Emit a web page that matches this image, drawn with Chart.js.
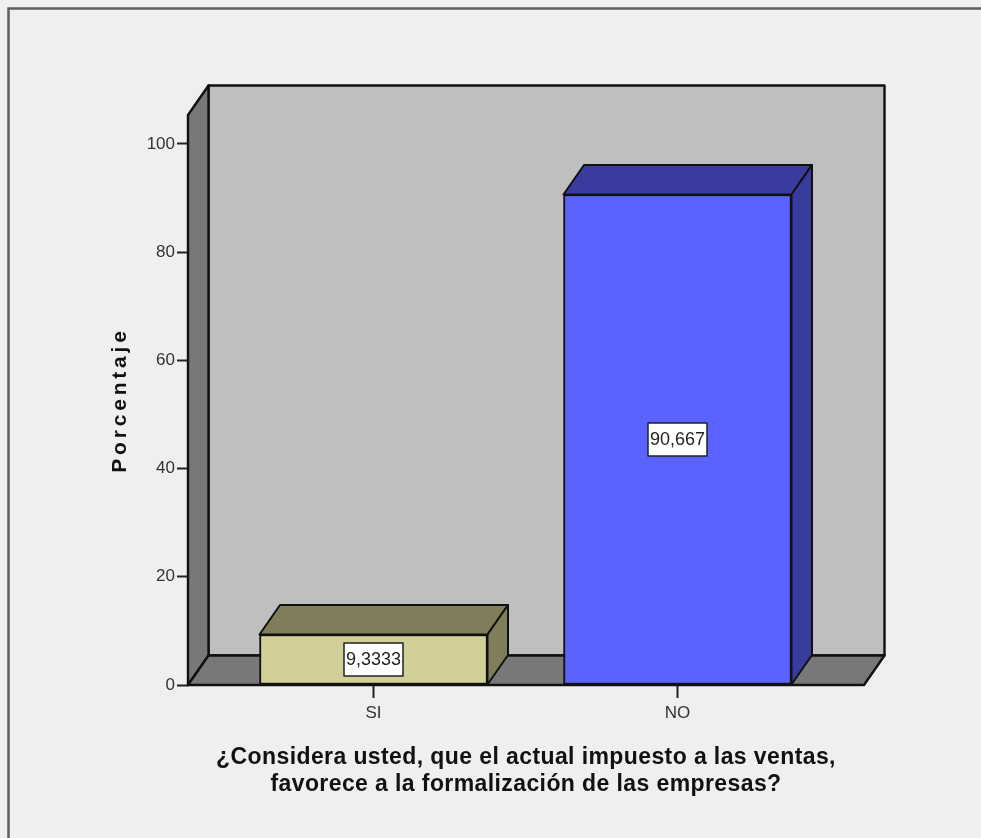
<!DOCTYPE html>
<html lang="es">
<head>
<meta charset="utf-8">
<title>Porcentaje</title>
<script src="https://cdn.jsdelivr.net/npm/chart.js@4"></script>
<style>
  html, body { margin: 0; padding: 0; background: #efefef; overflow: hidden; }
  canvas { display: block; }
</style>
</head>
<body>
<canvas id="chart" width="981" height="838"></canvas>
<script>
const categories = ['SI', 'NO'];
const percentages = [9.3333, 90.667];
const faceColors = ['#d3cf98', '#5a62ff'];
const shadeColors = ['#807e5a', '#393c9e'];
const yTicks = [0, 20, 40, 60, 80, 100];
const yTitle = 'Porcentaje';
const xTitle = ['¿Considera usted, que el actual impuesto a las ventas,',
                'favorece a la formalización de las empresas?'];

// Oblique offset of the box depth, in pixels
const DEPTH_X = 20.5;
const DEPTH_Y = -29.5;
const TEXT_FAMILY = '"Liberation Sans", Arial, sans-serif';

function polygon(ctx, pts, fill) {
  ctx.beginPath();
  pts.forEach((p, i) => i ? ctx.lineTo(p[0], p[1]) : ctx.moveTo(p[0], p[1]));
  ctx.closePath();
  ctx.fillStyle = fill;
  ctx.fill();
  ctx.stroke();
}

// Adds tracking to an axis title only; other axis text keeps normal spacing
function trackTitle(scale, spacing) {
  if (scale.$tracked) return;
  scale.$tracked = true;
  const drawTitle = scale.drawTitle;
  scale.drawTitle = function () {
    const ctx = scale.ctx;
    ctx.letterSpacing = spacing;
    drawTitle.call(scale);
    ctx.letterSpacing = '0px';
  };
}

const pageFrame = {
  id: 'pageFrame',
  beforeDraw(chart) {
    const ctx = chart.ctx;
    ctx.save();
    ctx.strokeStyle = '#5f5f5f';
    ctx.lineWidth = 2.5;
    ctx.beginPath();
    ctx.moveTo(8.5, chart.height);
    ctx.lineTo(8.5, 8.5);
    ctx.lineTo(chart.width, 8.5);
    ctx.stroke();
    ctx.restore();
  }
};

// Back wall, side wall and floor of the 3D box
const box3d = {
  id: 'box3d',
  beforeDatasetsDraw(chart) {
    const { ctx, chartArea: a } = chart;
    ctx.save();
    ctx.strokeStyle = '#111';
    ctx.lineWidth = 2.4;
    ctx.lineJoin = 'round';
    polygon(ctx, [[a.left + DEPTH_X, a.top + DEPTH_Y], [a.right + DEPTH_X, a.top + DEPTH_Y],
                  [a.right + DEPTH_X, a.bottom + DEPTH_Y], [a.left + DEPTH_X, a.bottom + DEPTH_Y]], '#bfbfbf');
    polygon(ctx, [[a.left, a.top], [a.left + DEPTH_X, a.top + DEPTH_Y],
                  [a.left + DEPTH_X, a.bottom + DEPTH_Y], [a.left, a.bottom]], '#787878');
    polygon(ctx, [[a.left, a.bottom], [a.left + DEPTH_X, a.bottom + DEPTH_Y],
                  [a.right + DEPTH_X, a.bottom + DEPTH_Y], [a.right, a.bottom]], '#787878');
    ctx.restore();
  },
  // Top and right faces of every bar, then its value label
  afterDatasetsDraw(chart) {
    const ctx = chart.ctx;
    const bars = chart.getDatasetMeta(0).data;
    ctx.save();
    ctx.lineJoin = 'round';
    bars.forEach((bar, i) => {
      const l = bar.x - bar.width / 2;
      const r = bar.x + bar.width / 2;
      ctx.strokeStyle = '#111';
      ctx.lineWidth = 2;
      polygon(ctx, [[l, bar.y], [l + DEPTH_X, bar.y + DEPTH_Y], [r + DEPTH_X, bar.y + DEPTH_Y], [r, bar.y]], shadeColors[i]);
      polygon(ctx, [[r, bar.y], [r + DEPTH_X, bar.y + DEPTH_Y], [r + DEPTH_X, bar.base + DEPTH_Y], [r, bar.base]], shadeColors[i]);

      const text = percentages[i].toPrecision(5).replace('.', ',');
      const cy = (bar.y + bar.base) / 2;
      const w = 59, h = 33;
      ctx.fillStyle = '#fff';
      ctx.strokeStyle = '#222';
      ctx.lineWidth = 1.5;
      ctx.fillRect(bar.x - w / 2, cy - h / 2, w, h);
      ctx.strokeRect(bar.x - w / 2, cy - h / 2, w, h);
      ctx.font = '18px ' + TEXT_FAMILY;
      ctx.fillStyle = '#222';
      ctx.textAlign = 'center';
      ctx.textBaseline = 'middle';
      ctx.fillText(text, bar.x, cy + 1);
    });
    ctx.restore();
  }
};

new Chart(document.getElementById('chart'), {
  type: 'bar',
  data: {
    datasets: [{
      label: yTitle,
      data: percentages.map((y, i) => ({ x: i, y })),
      backgroundColor: faceColors,
      borderColor: '#111',
      borderWidth: 2,
      borderSkipped: false,
      barThickness: 228,
      clip: false
    }]
  },
  options: {
    responsive: false,
    animation: false,
    devicePixelRatio: 1,
    layout: { padding: { left: 0, top: 115, right: 117, bottom: 0 } },
    plugins: { legend: { display: false }, tooltip: { enabled: false } },
    scales: {
      x: {
        type: 'linear',
        offset: false,
        min: -0.6102,
        max: 1.6135,
        afterBuildTicks(scale) { scale.ticks = categories.map((_, i) => ({ value: i })); },
        afterFit(scale) { scale.height = 153; trackTitle(scale, '0.4px'); },
        grid: { display: true, offset: false, drawOnChartArea: false, tickLength: 13, tickWidth: 2, tickColor: '#222' },
        border: { display: false },
        ticks: {
          autoSkip: false,
          maxRotation: 0,
          padding: 5,
          color: '#333',
          font: { family: TEXT_FAMILY, size: 17 },
          callback: (v) => categories[v]
        },
        title: {
          display: true,
          text: xTitle,
          color: '#111',
          font: { family: TEXT_FAMILY, size: 23, weight: 'bold', lineHeight: 1.174 },
          padding: { top: 0, bottom: 40 }
        }
      },
      y: {
        min: 0,
        max: 105.36,
        afterBuildTicks(scale) { scale.ticks = yTicks.map((value) => ({ value })); },
        afterFit(scale) { scale.width = 188; trackTitle(scale, '3.8px'); },
        grid: { display: true, drawOnChartArea: false, tickLength: 11, tickWidth: 2, tickColor: '#222' },
        border: { display: false },
        ticks: {
          includeBounds: false,
          stepSize: 20,
          padding: 2,
          color: '#333',
          font: { family: TEXT_FAMILY, size: 17 }
        },
        title: {
          display: true,
          text: yTitle,
          color: '#111',
          font: { family: TEXT_FAMILY, size: 21, weight: 'bold', lineHeight: 1.2 },
          padding: { top: 108, bottom: 0 }
        }
      }
    }
  },
  plugins: [pageFrame, box3d]
});
</script>
</body>
</html>
